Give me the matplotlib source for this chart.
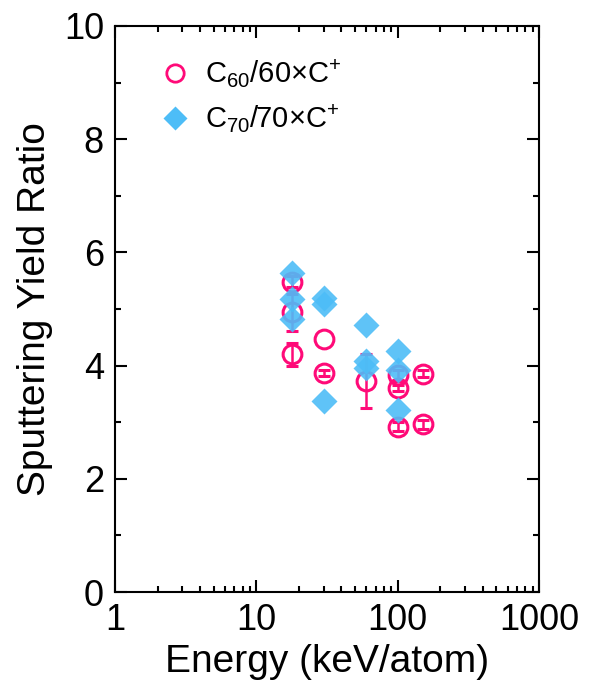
import numpy as np
import matplotlib
matplotlib.use('Agg')
import matplotlib.pyplot as plt
from matplotlib.lines import Line2D
from matplotlib.ticker import LogLocator, MultipleLocator, NullFormatter, FixedFormatter, FixedLocator

plt.rcParams['font.family'] = ['Liberation Sans', 'DejaVu Sans']
plt.rcParams['mathtext.fontset'] = 'custom'
plt.rcParams['mathtext.rm'] = 'Liberation Sans'
plt.rcParams['mathtext.it'] = 'Liberation Sans:italic'

# C60 / 60 x C+  (open circles with error bars)
c60_energy = [18, 18, 18, 30, 30, 60, 100, 100, 100, 150, 150]
c60_ratio = [5.48, 4.94, 4.20, 4.47, 3.87, 3.73, 3.83, 3.60, 2.92, 3.86, 2.96]
c60_err = [0.10, 0.32, 0.20, np.nan, 0.06, 0.47, 0.10, 0.05, 0.08, 0.06, 0.08]

# C70 / 70 x C+  (filled diamonds)
c70_energy = [18, 18, 18, 30, 30, 30, 60, 60, 60, 100, 100, 100]
c70_ratio = [5.64, 5.17, 4.82, 5.20, 5.08, 3.37, 4.72, 4.08, 3.96, 4.26, 3.93, 3.22]

pink = '#FF0A78'
blue = '#4DBDF7'

fig = plt.figure(figsize=(5.91, 6.93), dpi=100)
ax = fig.add_axes([0.1946, 0.1457, 0.7174, 0.8168])

ax.errorbar(c60_energy, c60_ratio, yerr=c60_err, fmt='o', color=pink, mfc='none',
            mec=pink, ms=13.5, mew=2.2, elinewidth=1.8, capsize=4.5, capthick=1.8,
            zorder=2)
ax.plot(c70_energy, c70_ratio, 'D', color=blue, ms=13, mec='none', alpha=0.9,
        linestyle='None', zorder=3)

ax.set_xscale('log')
ax.set_xlim(1, 1000)
ax.set_ylim(0, 10)

ax.xaxis.set_major_locator(FixedLocator([1, 10, 100, 1000]))
ax.xaxis.set_major_formatter(FixedFormatter(['1', '10', '100', '1000']))
ax.xaxis.set_minor_locator(LogLocator(base=10, subs=np.arange(2, 10), numticks=20))
ax.xaxis.set_minor_formatter(NullFormatter())
ax.yaxis.set_major_locator(MultipleLocator(2))
ax.yaxis.set_minor_locator(MultipleLocator(1))

ax.tick_params(axis='both', which='both', direction='in', top=True, right=True,
               labelsize=26, width=1.5)
ax.tick_params(which='major', length=8.5, pad=8)
ax.tick_params(which='minor', length=4.5)
for s in ax.spines.values():
    s.set_linewidth(1.5)

ax.set_xlabel('Energy (keV/atom)', fontsize=28, labelpad=4)
ax.set_ylabel('Sputtering Yield Ratio', fontsize=28, labelpad=8)

# legend
handles = [
    Line2D([0], [0], marker='o', color=pink, mfc='white', mec=pink, ms=12.5, mew=2, linestyle='None'),
    Line2D([0], [0], marker='D', color=blue, mec='none', ms=12.5, linestyle='None'),
]
labels = [r'C$_{60}$/60$\times$C$^{+}$', r'C$_{70}$/70$\times$C$^{+}$']
ax.legend(handles, labels, loc='upper left', bbox_to_anchor=(0.027, 0.99), frameon=False,
          fontsize=21, handletextpad=0.3, labelspacing=0.42, handlelength=1.5)

fig.savefig('out.png', dpi=100)
